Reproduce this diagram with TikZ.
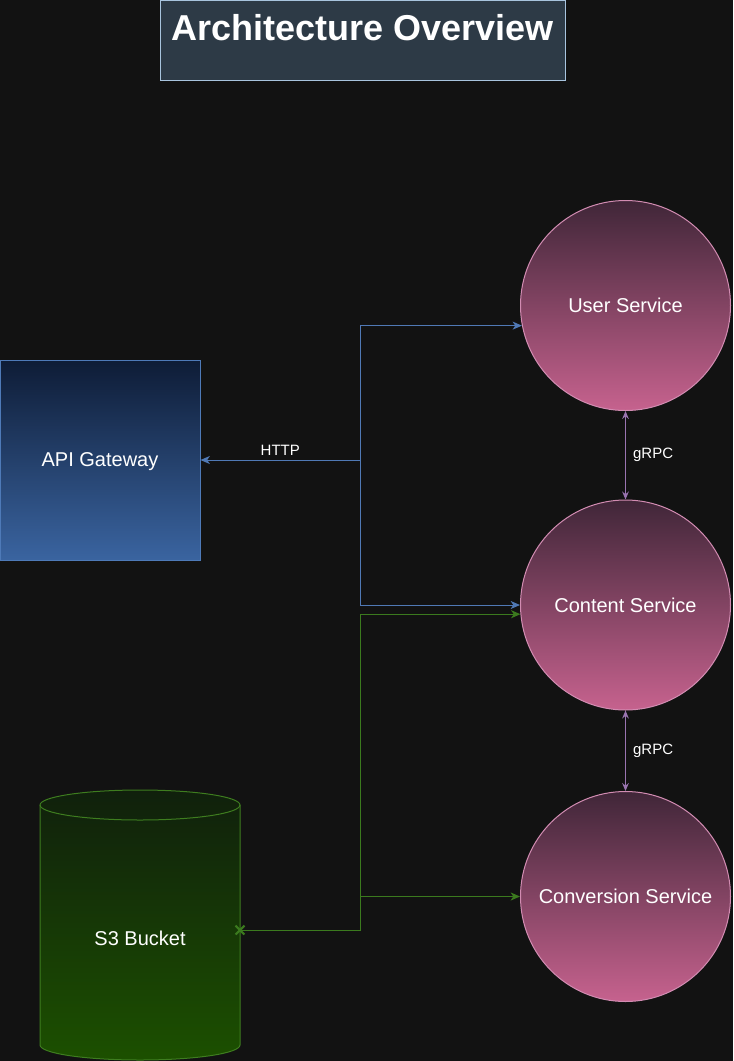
\documentclass[tikz,border=0pt]{standalone}
\usepackage{fontspec}
\setmainfont{Liberation Sans}
\usetikzlibrary{arrows.meta, positioning, calc, shapes.geometric, shapes.misc}
\definecolor{Canvas}{RGB}{18, 18, 18}
\definecolor{TitleFill}{RGB}{45, 58, 70}
\definecolor{TitleEdge}{RGB}{168, 196, 222}
\definecolor{GwTop}{RGB}{14, 28, 54}
\definecolor{GwBot}{RGB}{58, 100, 160}
\definecolor{GwEdge}{RGB}{78, 122, 184}
\definecolor{SvcTop}{RGB}{64, 38, 56}
\definecolor{SvcBot}{RGB}{198, 98, 142}
\definecolor{SvcEdge}{RGB}{210, 140, 178}
\definecolor{S3Top}{RGB}{16, 32, 12}
\definecolor{S3Bot}{RGB}{28, 80, 0}
\definecolor{S3Edge}{RGB}{62, 125, 31}
\definecolor{HttpWire}{RGB}{80, 121, 181}
\definecolor{RpcWire}{RGB}{154, 116, 176}
\definecolor{DataWire}{RGB}{59, 122, 30}

\begin{document}
\begin{tikzpicture}[
      x=0.75pt, y=-0.75pt,
      bigtxt/.style={text=white, font=\fontsize{15}{18}\selectfont},
      svc/.style={circle, draw=SvcEdge, top color=SvcTop, bottom color=SvcBot,
                  minimum size=157.5pt, inner sep=0pt, line width=0.75pt, bigtxt},
      gwbox/.style={rectangle, draw=GwEdge, top color=GwTop, bottom color=GwBot,
                    minimum width=150pt, minimum height=150pt, line width=0.75pt, bigtxt,
                    text depth=0pt},
      titlebox/.style={rectangle, draw=TitleEdge, fill=TitleFill,
                       minimum width=303.75pt, minimum height=60pt, line width=0.75pt},
      wirelbl/.style={text=white, font=\fontsize{11.25}{13}\selectfont},
      httparr/.style={>={Stealth[length=7pt, width=6pt, inset=2pt]}, line width=0.75pt, HttpWire},
      rpcarr/.style={<->, >={Stealth[length=6pt, width=5pt, inset=2pt]}, line width=0.75pt, RpcWire},
      dataarr/.style={->, >={Stealth[length=7pt, width=6pt, inset=2pt]}, line width=0.75pt, DataWire}
    ]
      \fill[Canvas] (0,0) rectangle (733,1061);
      \useasboundingbox (0,0) rectangle (733,1061);

      % title
      \node[titlebox] (title) at (362.5,40) {};
      \node[text=white, font=\fontsize{27}{32}\selectfont\bfseries] (titletxt) at (362.5,28) {Architecture Overview};

      % services
      \node[svc] (user) at (625.5,305.5) {User Service};
      \node[svc] (content) at (625.5,605) {Content Service};
      \node[svc] (conv) at (625.5,896.5) {Conversion Service};

      \node[gwbox] (gw) at (100,460) {API Gateway};

      % bucket
      \draw[draw=S3Edge, line width=0.75pt, top color=S3Top, bottom color=S3Bot]
        (40,805) -- (40,1045) arc[start angle=180, end angle=360, x radius=75pt, y radius=11.25pt]
        -- (240,805) arc[start angle=0, end angle=180, x radius=75pt, y radius=11.25pt] -- cycle;
      \draw[S3Edge, line width=0.75pt] (40,805) arc[start angle=180, end angle=360, x radius=75pt, y radius=11.25pt];
      \node[bigtxt] (s3) at (140,938) {S3 Bucket};

      \coordinate (hub) at (360,460);
      \coordinate (s3e) at (240,930);
      \coordinate (dhub) at (360,930);

      % HTTP
      \draw[httparr, <->] (gw) -- (hub) node[midway, above, wirelbl] {HTTP} |- (user.191);
      \draw[httparr, ->] (hub) |- (content.west);

      % gRPC
      \draw[rpcarr] (user) -- (content) node[midway, right, xshift=2pt, wirelbl] {gRPC};
      \draw[rpcarr] (content) -- (conv) node[midway, right, xshift=2pt, wirelbl] {gRPC};

      % storage
      \draw[dataarr] (s3e) -- (dhub) |- (content.185);
      \draw[dataarr] (dhub |- conv.west) -- (conv.west);
      \node[cross out, draw=DataWire, line width=1.6pt, minimum size=5pt,
            inner sep=0pt] (s3mark) at (s3e) {};
    \end{tikzpicture}
\end{document}
